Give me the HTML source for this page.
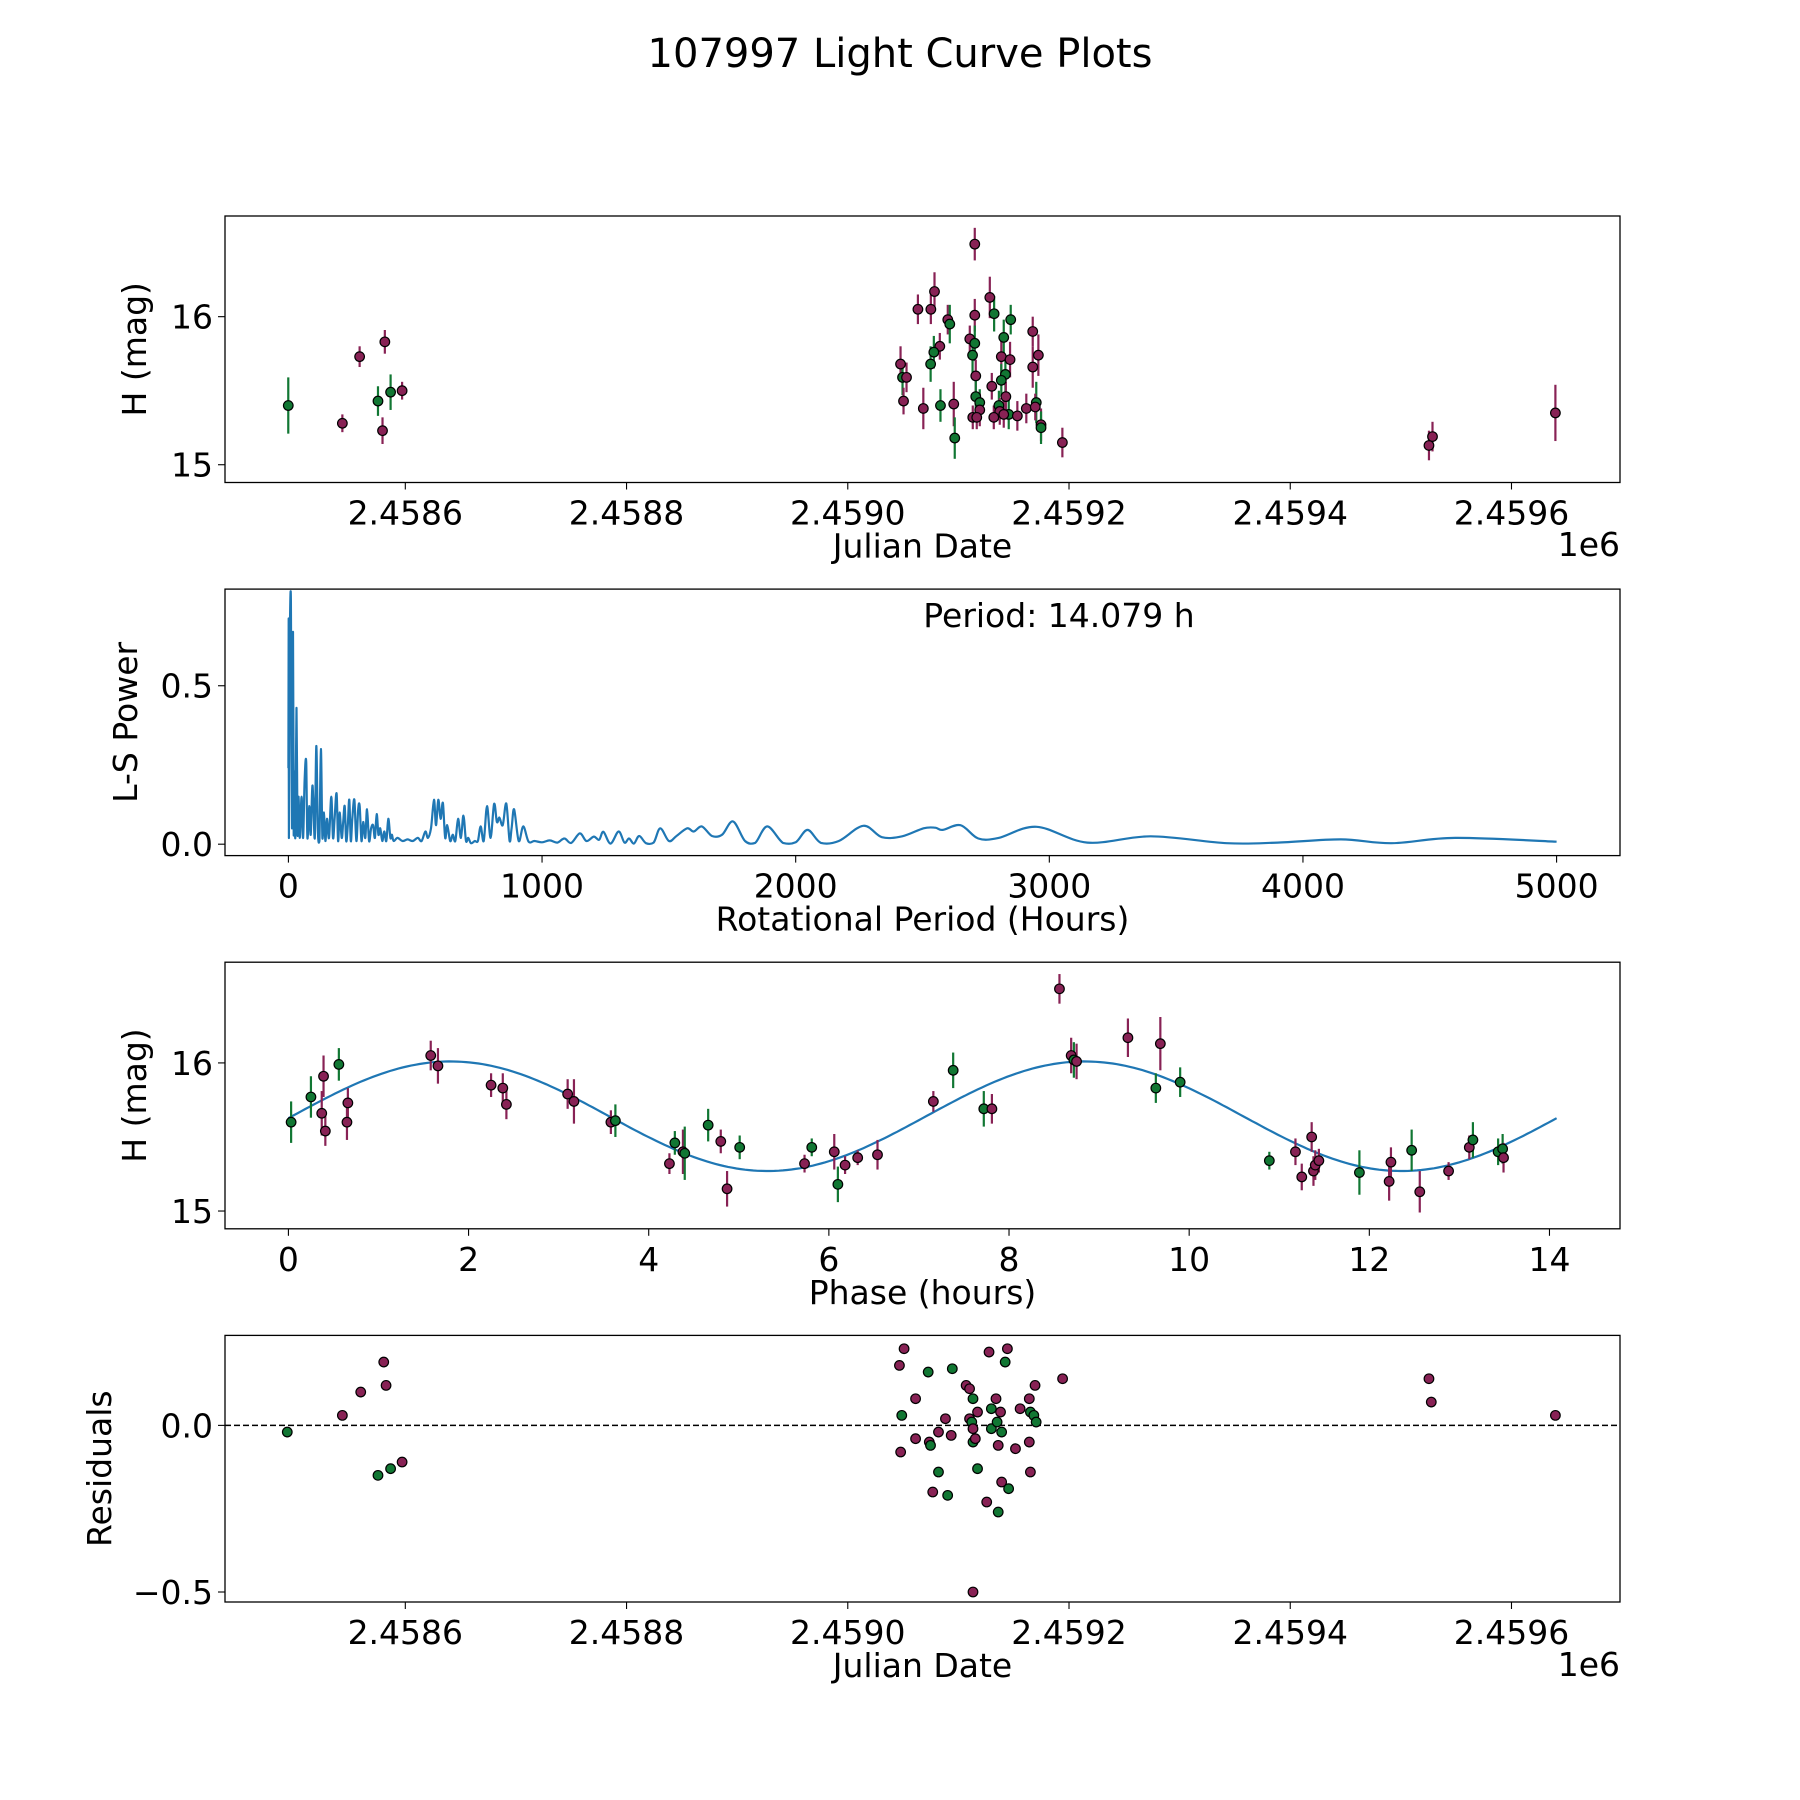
<!DOCTYPE html>
<html><head><meta charset="utf-8"><style>
html,body{margin:0;padding:0;background:#fff}
svg{display:block}
text{font-family:"DejaVu Sans","Liberation Sans",sans-serif;fill:#000}
</style></head><body>
<svg id="fig" width="1800" height="1800" viewBox="0 0 1800 1800" xmlns="http://www.w3.org/2000/svg">
<rect width="1800" height="1800" fill="#fff"/>
<text x="900" y="67" font-size="40" text-anchor="middle">107997 Light Curve Plots</text>
</svg>
<script>
// ---------- Data ----------
const obsJd = [-505.8,-456.9,-441.3,-424.7,-420.6,-418.5,-413.3,-402.9,525.4,528.6,639.7,
114.8,78.4,63.4,75.1,128.4,90.4,92.2,114.8,132.3,147.3,141,167.2,110.3,114.8,83.2,77.8,112.8,172.3,138.8,146.7,47.7,74.9,167.2,142.5,115.7,138.8,49.5,53.1,130.2,142.9,115.7,50.4,119.3,83.8,95.8,136.6,68.3,161.4,170.4,169.5,119.3,137.4,145.5,141,153.3,132,113,116.6,174.7,174.7,96.7,194];
const obsMag = [15.40,15.28,15.73,15.43,15.23,15.83,15.49,15.50,15.13,15.19,15.35,
16.49,16.17,16.05,16.05,16.13,15.98,15.95,16.01,16.02,15.98,15.86,15.90,15.85,15.82,15.80,15.76,15.74,15.74,15.73,15.71,15.68,15.68,15.66,15.61,15.60,15.57,15.59,15.59,15.53,15.46,15.46,15.43,15.42,15.40,15.41,15.40,15.38,15.38,15.42,15.39,15.37,15.36,15.34,15.34,15.33,15.32,15.32,15.32,15.27,15.25,15.18,15.15];
const obsErr = [0.19,0.06,0.07,0.10,0.09,0.08,0.12,0.06,0.10,0.10,0.19,
0.11,0.13,0.10,0.10,0.14,0.10,0.13,0.11,0.12,0.10,0.12,0.10,0.09,0.12,0.09,0.11,0.12,0.14,0.11,0.12,0.12,0.12,0.14,0.12,0.11,0.11,0.12,0.10,0.09,0.10,0.12,0.09,0.09,0.11,0.15,0.10,0.14,0.10,0.14,0.09,0.11,0.09,0.10,0.09,0.10,0.08,0.08,0.08,0.11,0.11,0.14,0.10];
const obsBand = "gppgppgpppp"+"ppppppgpgg"+"gppgpggppp"+"pgpgpggppp"+"gpggpgppgp"+"ppgppppppg"+"gp";

const lsPeriod = [0,1,2,5,10,14,18,21,23,27,
32,36,40,45,52,58,64,70,75,82,
88,94,98,104,110,116,122,128,134,140,
146,152,160,169,176,182,190,196,202,210,
216,222,228,234,240,246,252,260,268,275,
281,288,295,303,310,318,326,334,341,348,
355,362,370,378,386,394,402,408,415,430,
450,470,490,510,525,540,550,562,574,582,
591,600,609,618,626,638,648,658,669,680,
690,700,709,720,735,747,758,770,783,797,
811,822,832,845,859,872,880,890,908,926,
947,970,1000,1030,1060,1088,1115,1149,1175,1204,
1225,1242,1270,1302,1325,1343,1362,1383,1410,1440,
1466,1500,1530,1572,1598,1630,1670,1710,1753,1800,
1840,1888,1950,2000,2047,2100,2170,2267,2340,2420,
2504,2550,2580,2650,2720,2800,2950,3150,3400,3700,
3900,4150,4350,4600,5000];
const lsPower = [0.24,0.71,0.02,0.60,0.768,0.05,0.67,0.03,0.23,0.02,
0.43,0.03,0.15,0.02,0.15,0.02,0.20,0.26,0.02,0.12,
0.03,0.18,0.14,0.02,0.31,0.05,0.01,0.30,0.02,0.10,
0.01,0.08,0.02,0.15,0.02,0.08,0.16,0.01,0.10,0.02,
0.07,0.12,0.01,0.06,0.14,0.01,0.08,0.14,0.01,0.11,
0.12,0.01,0.07,0.02,0.11,0.01,0.05,0.06,0.02,0.095,
0.03,0.05,0.01,0.04,0.01,0.08,0.02,0.03,0.01,0.02,
0.01,0.015,0.01,0.02,0.01,0.04,0.02,0.05,0.14,0.06,
0.14,0.08,0.13,0.02,0.06,0.01,0.03,0.01,0.08,0.02,
0.09,0.01,0.02,0.003,0.01,0.01,0.056,0.01,0.12,0.02,
0.127,0.07,0.084,0.06,0.128,0.01,0.05,0.11,0.01,0.056,
0.008,0.01,0.006,0.012,0.005,0.018,0.004,0.034,0.01,0.024,
0.014,0.039,0.002,0.04,0.005,0.018,0.002,0.026,0.003,0.005,
0.05,0.01,0.026,0.05,0.04,0.056,0.026,0.03,0.072,0.01,
0.004,0.056,0.004,0.006,0.045,0.004,0.01,0.058,0.022,0.025,
0.05,0.052,0.045,0.06,0.018,0.02,0.055,0.005,0.025,0.003,
0.005,0.015,0.003,0.02,0.008];
const periodLabel = ["Period: 14.079 h"];

const phase = [0.03,0.25,0.39,0.37,0.41,0.56,0.66,0.65,1.58,1.66,2.25,2.38,2.42,3.10,3.17,3.58,3.63,4.23,4.29,4.38,4.40,4.66,4.80,4.87,5.01,5.73,5.81,6.06,6.10,6.18,6.32,6.54,7.16,7.38,7.72,7.81,8.56,8.69,8.72,8.75,9.32,9.68,9.63,9.90,10.89,11.18,11.25,11.36,11.38,11.40,11.44,11.89,12.22,12.24,12.47,12.56,12.88,13.11,13.15,13.43,13.48,13.49];
const phaseMag = [15.60,15.77,15.91,15.66,15.54,15.99,15.73,15.60,16.05,15.98,15.85,15.83,15.72,15.79,15.74,15.60,15.61,15.32,15.46,15.40,15.39,15.58,15.47,15.15,15.43,15.32,15.43,15.40,15.18,15.31,15.36,15.38,15.74,15.95,15.69,15.69,16.50,16.05,16.02,16.01,16.17,16.13,15.83,15.87,15.34,15.40,15.23,15.50,15.27,15.31,15.34,15.26,15.20,15.33,15.41,15.13,15.27,15.43,15.48,15.40,15.42,15.36];
const phaseErr = [0.14,0.14,0.14,0.15,0.10,0.11,0.10,0.12,0.10,0.12,0.08,0.10,0.10,0.10,0.15,0.08,0.11,0.07,0.08,0.15,0.18,0.11,0.08,0.12,0.08,0.06,0.06,0.12,0.12,0.06,0.05,0.10,0.07,0.12,0.12,0.10,0.10,0.12,0.12,0.12,0.13,0.18,0.10,0.10,0.06,0.09,0.09,0.10,0.10,0.10,0.08,0.15,0.13,0.10,0.14,0.14,0.06,0.08,0.12,0.09,0.10,0.10];
const phaseBand = "ggpppgpppp"+"ppppppgpgp"+"ggppgpgpgp"+"pppggpppgp"+"ppgggppppp"+"pgppgpppgg"+"gp";
const fitParams = [15.64, 0.37, 1.8, 7.0395, 14.079];

const resJd = [-506.7,-456.9,-440.3,-424.7,-419.5,-417.4,-413.3,-402.9,525.4,527.5,639.7,46.7,50.9,48.8,47.8,61.3,61.3,72.7,73.7,74.8,76.8,82.0,82.0,88.3,90.3,93.5,94.5,107.0,110.1,110.1,112.1,113.2,113.2,113.2,113.2,115.3,117.3,117.3,125.6,127.7,129.8,129.8,134.0,135.0,136.0,136.0,138.1,139.1,139.1,142.3,144.3,145.4,151.6,155.8,164.1,164.1,165.1,165.1,168.2,169.3,170.3,194.2];
const resVal = [-0.02,0.03,0.10,-0.15,0.19,0.12,-0.13,-0.11,0.14,0.07,0.03,0.18,0.23,0.03,-0.08,0.08,-0.04,0.16,-0.05,-0.06,-0.20,-0.14,-0.02,0.02,-0.21,-0.03,0.17,0.12,0.11,0.02,0.01,-0.50,0.08,-0.01,-0.05,-0.04,0.04,-0.13,-0.23,0.22,0.05,-0.01,0.08,0.01,-0.06,-0.26,0.04,-0.02,-0.17,0.19,0.23,-0.19,-0.07,0.05,-0.05,0.08,-0.14,0.04,0.03,0.12,0.01,0.14];
const resBand = "gppgppgpppp"+"ppgpppgpgp"+"gppgpgpppg"+"pgpgppgppg"+"gpgpgpgpgp"+"gpppppggpg"+"p";

const jdTicks = [-400,-200,0,200,400,600];
const jdTickLabels = ["2.4586","2.4588","2.4590","2.4592","2.4594","2.4596"];
const magTicks = [15,16];
const magTickLabels = ["15","16"];
const lsXTicks = [0,1000,2000,3000,4000,5000];
const lsXTickLabels = ["0","1000","2000","3000","4000","5000"];
const lsYTicks = [0,0.5];
const lsYTickLabels = ["0.0","0.5"];
const phaseTicks = [0,2,4,6,8,10,12,14];
const phaseTickLabels = ["0","2","4","6","8","10","12","14"];
const resTicks = [-0.5,0];
const resTickLabels = ["\u22120.5","0.0"];

// ---------- Drawing ----------
const NS = "http://www.w3.org/2000/svg";
const svg = document.getElementById("fig");
const COL = {g:"#117733", p:"#882255"};
function mk(tag, attrs, parent){
  const e = document.createElementNS(NS, tag);
  for (const k in attrs) e.setAttribute(k, attrs[k]);
  (parent||svg).appendChild(e);
  return e;
}
const L = 225, R = 1620;
function scale(d0,d1,p0,p1){ return v => p0 + (v-d0)/(d1-d0)*(p1-p0); }

function axesFrame(name, top, bot, xs, ys, xt, xtl, yt, ytl, xlabel, ylabel, ylabelX){
  const g = mk("g", {});
  
  
  xt.forEach((v,i)=>{
    const x = xs(v);
    const t = mk("line",{x1:x,x2:x,y1:bot,y2:bot+7,stroke:"#000","stroke-width":1.1},g);
    
    
    const tx = mk("text",{x:x,y:bot+42,"font-size":33,"text-anchor":"middle"},g);
    tx.textContent = xtl[i];
    
    
  });
  yt.forEach((v,i)=>{
    const y = ys(v);
    const t = mk("line",{x1:L-7,x2:L,y1:y,y2:y,stroke:"#000","stroke-width":1.1},g);
    
    
    const tx = mk("text",{x:L-12,y:y+12,"font-size":33,"text-anchor":"end"},g);
    tx.textContent = ytl[i];
    
    
  });
  const xl = mk("text",{x:(L+R)/2,y:bot+75,"font-size":33,"text-anchor":"middle"},g);
  xl.textContent = xlabel;
  
  
  const cy = (top+bot)/2;
  const yl = mk("text",{x:ylabelX,y:cy,"font-size":33,"text-anchor":"middle",transform:`rotate(-90 ${ylabelX} ${cy})`},g);
  yl.textContent = ylabel;
  
  
  return g;
}
function border(top, bot){
  const b = mk("rect",{x:L,y:top,width:R-L,height:bot-top,fill:"none",stroke:"#000","stroke-width":1.3});
  
  
}
function offsetText(y){
  const t = mk("text",{x:R,y:y,"font-size":33,"text-anchor":"end"});
  t.textContent = "1e6";
  
  
}
function errPoints(name, xs, ys, X, Y, E, B){
  const g = mk("g",{});
  
  
  X.forEach((v,i)=>{
    const x = xs(v);
    const l = mk("line",{x1:x,x2:x,y1:ys(Y[i]-E[i]),y2:ys(Y[i]+E[i]),stroke:COL[B[i]]||COL.p,"stroke-width":2.2},g);
    
    
  });
  X.forEach((v,i)=>{
    const c = mk("circle",{cx:xs(v),cy:ys(Y[i]),r:4.8,fill:COL[B[i]]||COL.p,stroke:"#000","stroke-width":1.2},g);
    
    
  });
}

const jdMin = -563, jdMax = 698.1;
const magMin = 14.88, magMax = 16.68;

// Panel 1
{
  const top=216, bot=482.5;
  const xs = scale(jdMin,jdMax,L,R), ys = scale(magMin,magMax,bot,top);
  axesFrame("lightcurve-axes",top,bot,xs,ys,jdTicks,jdTickLabels,magTicks,magTickLabels,"Julian Date","H (mag)",146);
  errPoints("lightcurve-points",xs,ys,obsJd,obsMag,obsErr,obsBand);
  border(top,bot);
  offsetText(556);
}
// Panel 2
{
  const top=589.1, bot=855.6;
  const xs = scale(-250,5250,L,R), ys = scale(-0.036,0.805,bot,top);
  axesFrame("periodogram-axes",top,bot,xs,ys,lsXTicks,lsXTickLabels,lsYTicks,lsYTickLabels,"Rotational Period (Hours)","L-S Power",137);
  const n = Math.min(lsPeriod.length, lsPower.length);
  const P = [];
  for (let i=0;i<n;i++) P.push([xs(lsPeriod[i]), ys(lsPower[i])]);
  const base = ys(0);
  let d = "M"+P[0][0].toFixed(1)+","+P[0][1].toFixed(1);
  for (let i=0;i<n-1;i++){
    const p0=P[Math.max(i-1,0)], p1=P[i], p2=P[i+1], p3=P[Math.min(i+2,n-1)];
    const c1x=p1[0]+(p2[0]-p0[0])/6, c2x=p2[0]-(p3[0]-p1[0])/6;
    let c1y=p1[1]+(p2[1]-p0[1])/6, c2y=p2[1]-(p3[1]-p1[1])/6;
    c1y=Math.min(c1y,base); c2y=Math.min(c2y,base);
    d += ` C${c1x.toFixed(1)},${c1y.toFixed(1)} ${c2x.toFixed(1)},${c2y.toFixed(1)} ${p2[0].toFixed(1)},${p2[1].toFixed(1)}`;
  }
  const pl = mk("path",{d:d,fill:"none",stroke:"#1f77b4","stroke-width":2.2,"stroke-linejoin":"round"});
  
  
  const t = mk("text",{x:1059,y:627,"font-size":33,"text-anchor":"middle"});
  t.textContent = periodLabel[0];
  
  
  border(top,bot);
}
// Panel 3
{
  const top=962.2, bot=1228.8;
  const xs = scale(-0.704,14.783,L,R), ys = scale(magMin,magMax,bot,top);
  axesFrame("phase-axes",top,bot,xs,ys,phaseTicks,phaseTickLabels,magTicks,magTickLabels,"Phase (hours)","H (mag)",146);
  const [c,a,ph,Pd,pmax] = fitParams;
  const fp = [];
  for (let k=0;k<=300;k++){
    const p = pmax*k/300;
    fp.push(xs(p).toFixed(1)+","+ys(c+a*Math.cos(2*Math.PI*(p-ph)/Pd)).toFixed(1));
  }
  const fl = mk("polyline",{points:fp.join(" "),fill:"none",stroke:"#1f77b4","stroke-width":2.2});
  
  
  errPoints("phase-points",xs,ys,phase,phaseMag,phaseErr,phaseBand);
  border(top,bot);
}
// Panel 4
{
  const top=1335.4, bot=1602;
  const xs = scale(jdMin,jdMax,L,R), ys = scale(-0.53,0.27,bot,top);
  axesFrame("residual-axes",top,bot,xs,ys,jdTicks,jdTickLabels,resTicks,resTickLabels,"Julian Date","Residuals",111);
  const z = mk("line",{x1:L,x2:R,y1:ys(0),y2:ys(0),stroke:"#000","stroke-width":1.6,"stroke-dasharray":"6,3"});
  
  
  const g = mk("g",{});
  
  
  resJd.forEach((v,i)=>{
    const cc = mk("circle",{cx:xs(v),cy:ys(resVal[i]),r:4.8,fill:COL[resBand[i]]||COL.p,stroke:"#000","stroke-width":1.2},g);
    
    
  });
  border(top,bot);
  offsetText(1676);
}
</script>
</body></html>
